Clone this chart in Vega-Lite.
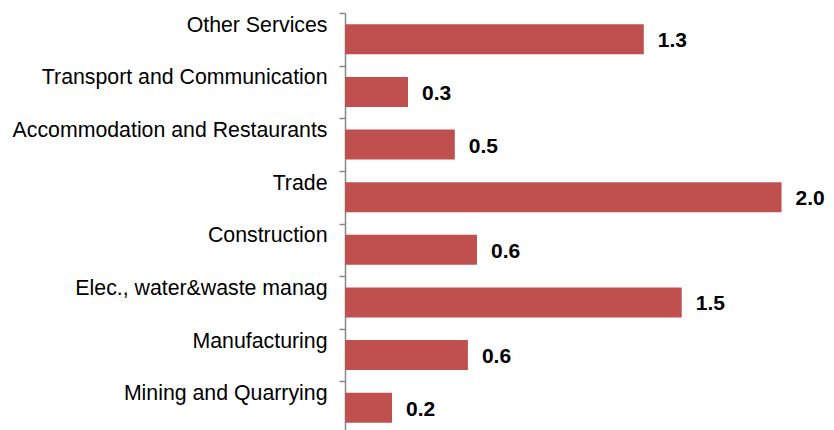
{
  "$schema": "https://vega.github.io/schema/vega-lite/v6.json",
  "width": 488,
  "height": 421,
  "autosize": {"type": "none"},
  "padding": {"left": 345, "top": 13, "right": 1, "bottom": 0},
  "background": "white",
  "config": {"view": {"stroke": null}, "font": "Liberation Sans"},
  "data": {
    "values": [
      {"sector": "Other Services", "value": 1.347},
      {"sector": "Transport and Communication", "value": 0.284},
      {"sector": "Accommodation and Restaurants", "value": 0.495},
      {"sector": "Trade", "value": 1.968},
      {"sector": "Construction", "value": 0.595},
      {"sector": "Elec., water&waste manag", "value": 1.518},
      {"sector": "Manufacturing", "value": 0.554},
      {"sector": "Mining and Quarrying", "value": 0.212}
    ]
  },
  "encoding": {
    "y": {
      "field": "sector",
      "type": "nominal",
      "sort": null,
      "scale": {"paddingInner": 0, "paddingOuter": 0},
      "axis": {
        "title": null,
        "tickBand": "extent",
        "labelOffset": -14,
        "labelFontSize": 21.3,
        "labelColor": "#000000",
        "labelFont": "Liberation Sans",
        "domainColor": "#888888",
        "domainWidth": 1.5,
        "tickColor": "#888888",
        "tickWidth": 1.5,
        "tickSize": 6,
        "labelPadding": 12,
        "labelLimit": 400
      }
    },
    "x": {
      "field": "value",
      "type": "quantitative",
      "scale": {"domain": [0, 2.2], "nice": false},
      "axis": null
    }
  },
  "layer": [
    {"mark": {"type": "bar", "color": "#C0504D", "height": {"band": 0.57}}},
    {
      "mark": {"type": "text", "align": "left", "baseline": "middle", "dx": 14, "dy": 2, "fontSize": 21, "fontWeight": "bold", "font": "Liberation Sans", "color": "#000000"},
      "encoding": {"text": {"field": "value", "type": "quantitative", "format": ".1f"}}
    }
  ]
}
